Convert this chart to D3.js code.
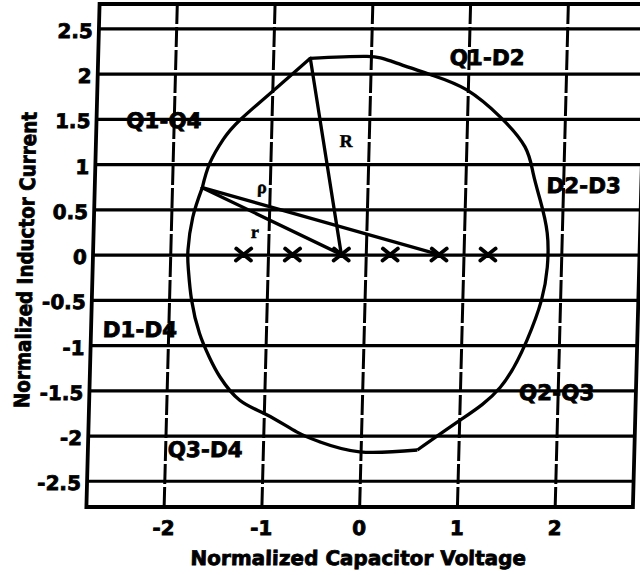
<!DOCTYPE html>
<html>
<head>
<meta charset="utf-8">
<script src="https://cdn.jsdelivr.net/npm/d3@7"></script>
<style>
  body { margin: 0; background: #fff; }
  svg text { font-family: "DejaVu Sans", sans-serif; font-weight: bold; fill: #000; }
</style>
</head>
<body>
<svg id="chart" width="640" height="575"></svg>
<script>
// Axis ticks
const xTicks = [-2, -1, 0, 1, 2];
const yTicks = [2.5, 2, 1.5, 1, 0.5, 0, -0.5, -1, -1.5, -2, -2.5];

// State-plane trajectory (normalized capacitor voltage, normalized inductor current),
// split at its corners into three arcs
const upperLeftArc = [[-1.69, 0.74], [-1.62, 1.01], [-1.49, 1.27], [-1.32, 1.49], [-0.95, 1.85], [-0.62, 2.17]];
const rightArc = [[-0.62, 2.17], [-0.04, 2.19], [0.23, 2.13], [0.64, 1.98], [0.99, 1.82], [1.34, 1.52],
  [1.60, 1.19], [1.69, 0.90], [1.77, 0.60], [1.85, 0.24], [1.86, -0.14], [1.81, -0.50], [1.67, -0.95],
  [1.41, -1.47], [1.01, -1.83], [0.58, -2.16]];
const lowerLeftArc = [[0.58, -2.16], [-0.01, -2.18], [-0.42, -2.07], [-0.66, -1.96], [-0.97, -1.77],
  [-1.25, -1.61], [-1.46, -1.35], [-1.57, -1.14], [-1.68, -0.87], [-1.77, -0.50], [-1.81, -0.17],
  [-1.82, 0.05], [-1.78, 0.41], [-1.69, 0.74]];

// Arc centres on the voltage axis
const centres = [-1.25, -0.75, -0.25, 0.25, 0.75, 1.25];

// Radius segments: [from, to]
const radiusNames = ["R", "ρ", "r"];
const radiusSegs = [
  [[-0.25, 0], [-0.62, 2.17]],
  [[-1.69, 0.74], [0.75, 0]],
  [[-1.69, 0.74], [-0.25, 0]]
];
const radiusLabelAt = [[-0.23, 1.19], [-1.08, 0.68], [-1.14, 0.18]];

// Conduction-interval labels
const regionLabels = ["Q1-D2", "Q1-Q4", "D2-D3", "D1-D4", "Q2-Q3", "Q3-D4"];
const regionLabelAt = [[1.19, 2.10], [-2.10, 1.40], [2.21, 0.68], [-2.29, -0.91], [1.99, -1.61], [-1.59, -2.24]];

const svg = d3.select("#chart");
const plotLeft = 93, plotRight = 639.5, plotTop = 4, plotBottom = 507;

const x = d3.scaleLinear().domain([-2.79, 2.8]).range([plotLeft, plotRight]);
const y = d3.scaleLinear().domain([-2.79, 2.77]).range([plotBottom, plotTop]);

// the whole sheet is slightly sheared
const g = svg.append("g")
  .attr("transform", "translate(0,255) skewX(-1.5) translate(0,-255)");

// horizontal grid + y labels
const yAxis = g.append("g")
  .attr("transform", `translate(${plotLeft},0)`)
  .call(d3.axisLeft(y).tickValues(yTicks).tickSize(-(plotRight - plotLeft)).tickPadding(6)
    .tickFormat(d => String(d)));
yAxis.select(".domain").remove();
yAxis.selectAll(".tick line").attr("stroke", "#000").attr("stroke-width", 3.2);
yAxis.selectAll(".tick text")
  .attr("font-size", 20).attr("dy", "0.45em")
  .attr("font-family", "DejaVu Sans").attr("font-weight", "bold")
  .attr("stroke", "#000").attr("stroke-width", 0.8);

// vertical dashed grid + x labels
const xAxis = g.append("g")
  .attr("transform", `translate(0,${plotBottom})`)
  .call(d3.axisBottom(x).tickValues(xTicks).tickSize(-(plotBottom - plotTop)).tickPadding(14)
    .tickFormat(d => String(d)));
xAxis.select(".domain").remove();
xAxis.selectAll(".tick line").attr("stroke", "#000").attr("stroke-width", 3)
  .attr("stroke-dasharray", "20,3");
xAxis.selectAll(".tick text")
  .attr("font-size", 20)
  .attr("font-family", "DejaVu Sans").attr("font-weight", "bold")
  .attr("stroke", "#000").attr("stroke-width", 0.8);

// plot frame
g.append("rect")
  .attr("x", plotLeft).attr("y", plotTop)
  .attr("width", plotRight - plotLeft).attr("height", plotBottom - plotTop)
  .attr("fill", "none").attr("stroke", "#000").attr("stroke-width", 3.8);

// trajectory
const line = d3.line().x(d => x(d[0])).y(d => y(d[1])).curve(d3.curveNatural);
[upperLeftArc, rightArc, lowerLeftArc].forEach(arc => {
  g.append("path").attr("d", line(arc))
    .attr("fill", "none").attr("stroke", "#000").attr("stroke-width", 3.3)
    .attr("stroke-linejoin", "round");
});

// radius lines
g.selectAll(".radius").data(radiusSegs).enter().append("line")
  .attr("class", "radius")
  .attr("x1", d => x(d[0][0])).attr("y1", d => y(d[0][1]))
  .attr("x2", d => x(d[1][0])).attr("y2", d => y(d[1][1]))
  .attr("stroke", "#000").attr("stroke-width", 3.3).attr("stroke-linecap", "round");

// centre markers
const mk = g.selectAll(".centre").data(centres).enter().append("g")
  .attr("class", "centre")
  .attr("transform", d => `translate(${x(d)},${y(0)})`);
mk.append("path").attr("d", "M-7.5,-6L7.5,6M-7.5,6L7.5,-6")
  .attr("stroke", "#000").attr("stroke-width", 3.8).attr("stroke-linecap", "round");

// radius labels
g.selectAll(".rlab").data(radiusNames).enter().append("text")
  .attr("class", "rlab")
  .attr("x", (d, i) => x(radiusLabelAt[i][0])).attr("y", (d, i) => y(radiusLabelAt[i][1]))
  .attr("text-anchor", "middle")
  .style("font-family", "'Liberation Serif', serif").style("font-size", "18px")
  .attr("stroke", "#000").attr("stroke-width", 0.5)
  .text(d => d);

// region labels
g.selectAll(".region").data(regionLabels).enter().append("text")
  .attr("class", "region")
  .attr("x", (d, i) => x(regionLabelAt[i][0])).attr("y", (d, i) => y(regionLabelAt[i][1]))
  .attr("text-anchor", "middle")
  .attr("font-size", 21.5)
  .attr("stroke", "#000").attr("stroke-width", 0.8)
  .text(d => d);

// axis titles
g.append("text")
  .attr("x", (plotLeft + plotRight) / 2).attr("y", 565)
  .attr("text-anchor", "middle").attr("font-size", 20)
  .attr("stroke", "#000").attr("stroke-width", 0.8)
  .text("Normalized Capacitor Voltage");

g.append("text")
  .attr("transform", "translate(33,260) rotate(-90)")
  .attr("text-anchor", "middle").attr("font-size", 21)
  .attr("textLength", 296).attr("lengthAdjust", "spacingAndGlyphs")
  .attr("stroke", "#000").attr("stroke-width", 0.8)
  .text("Normalized Inductor Current");
</script>
</body>
</html>
